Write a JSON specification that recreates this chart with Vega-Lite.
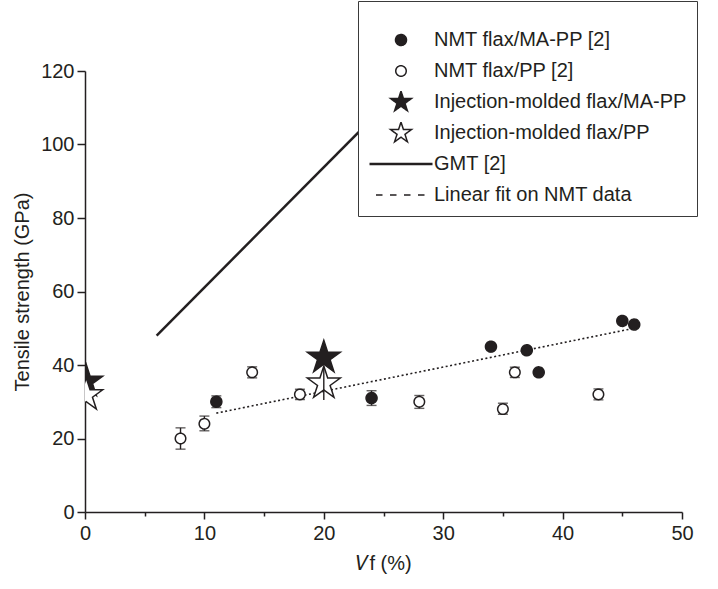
{
  "$schema": "https://vega.github.io/schema/vega-lite/v6.json",
  "width": 597,
  "height": 441,
  "autosize": {"type": "none"},
  "padding": {"left": 85, "top": 71, "right": 36, "bottom": 77},
  "background": "white",
  "config": {
    "view": {"stroke": null},
    "font": "Liberation Sans",
    "axis": {
      "grid": false,
      "domainColor": "#231f20",
      "domainWidth": 1.5,
      "tickColor": "#231f20",
      "tickWidth": 1.5,
      "labelColor": "#231f20",
      "titleColor": "#231f20",
      "labelFont": "Liberation Sans",
      "titleFont": "Liberation Sans",
      "labelFontSize": 20,
      "titleFontSize": 20,
      "titleFontWeight": "normal",
      "labelOverlap": false,
      "labelFlush": false
    },
    "legend": {
      "labelFont": "Liberation Sans",
      "labelFontSize": 20,
      "labelColor": "#231f20",
      "titleFontSize": 18,
      "titlePadding": 0,
      "orient": "none",
      "legendX": 273,
      "legendY": -70,
      "padding": 10,
      "strokeColor": "#3a3a3a",
      "fillColor": "white",
      "labelOffset": 0,
      "rowPadding": 9,
      "clipHeight": 22,
      "symbolOpacity": 1,
      "labelLimit": 400
    }
  },
  "datasets": {
    "pts": [
      {"series": "NMT flax/MA-PP [2]", "x": 11, "y": 30, "lo": 28.4, "hi": 31.6},
      {"series": "NMT flax/MA-PP [2]", "x": 24, "y": 31, "lo": 29, "hi": 33},
      {"series": "NMT flax/MA-PP [2]", "x": 34, "y": 45},
      {"series": "NMT flax/MA-PP [2]", "x": 37, "y": 44},
      {"series": "NMT flax/MA-PP [2]", "x": 38, "y": 38},
      {"series": "NMT flax/MA-PP [2]", "x": 45, "y": 52},
      {"series": "NMT flax/MA-PP [2]", "x": 46, "y": 51},
      {"series": "NMT flax/PP [2]", "x": 8, "y": 20, "lo": 17.1, "hi": 22.9},
      {"series": "NMT flax/PP [2]", "x": 10, "y": 24, "lo": 22.1, "hi": 26.1},
      {"series": "NMT flax/PP [2]", "x": 14, "y": 38, "lo": 36.5, "hi": 39.5},
      {"series": "NMT flax/PP [2]", "x": 18, "y": 32, "lo": 30.6, "hi": 33.4},
      {"series": "NMT flax/PP [2]", "x": 28, "y": 30, "lo": 28.2, "hi": 31.7},
      {"series": "NMT flax/PP [2]", "x": 35, "y": 28, "lo": 26.6, "hi": 29.6},
      {"series": "NMT flax/PP [2]", "x": 36, "y": 38, "lo": 36.6, "hi": 39.4},
      {"series": "NMT flax/PP [2]", "x": 43, "y": 32, "lo": 30.5, "hi": 33.5}
    ],
    "stars": [
      {"series": "Injection-molded flax/MA-PP", "x": 20, "y": 42},
      {"series": "Injection-molded flax/MA-PP", "x": 0.1, "y": 35.5},
      {"series": "Injection-molded flax/PP", "x": 20, "y": 35, "lo": 30.5, "hi": 39.5},
      {"series": "Injection-molded flax/PP", "x": 0.1, "y": 31.8}
    ],
    "gmt": [
      {"x": 6, "y": 48},
      {"x": 28, "y": 120}
    ],
    "fit": [
      {"x": 11, "y": 26.9},
      {"x": 46, "y": 50}
    ]
  },
  "layer": [
    {
      "data": {"name": "gmt"},
      "mark": {"type": "line", "color": "#231f20", "strokeWidth": 2.5, "clip": true},
      "encoding": {
        "x": {
          "field": "x", "type": "quantitative",
          "scale": {"domain": [0, 50], "nice": false, "zero": false},
          "axis": {
            "values": [0, 5, 10, 15, 20, 25, 30, 35, 40, 45, 50],
            "labelExpr": "datum.value % 10 === 0 ? datum.label : ''",
            "tickSize": {"condition": {"test": "datum.value % 10 === 0", "value": 7}, "value": 4},
            "labelPadding": 4,
            "title": "𝑉f (%)",
            "titlePadding": 10
          }
        },
        "y": {
          "field": "y", "type": "quantitative",
          "scale": {"domain": [0, 120], "nice": false, "zero": false},
          "axis": {
            "values": [0, 10, 20, 30, 40, 50, 60, 70, 80, 90, 100, 110, 120],
            "labelExpr": "datum.value % 20 === 0 ? datum.label : ''",
            "tickSize": {"condition": {"test": "datum.value % 20 === 0", "value": 8}, "value": 4},
            "labelPadding": 3,
            "title": "Tensile strength (GPa)",
            "titlePadding": 8
          }
        }
      }
    },
    {
      "data": {"name": "fit"},
      "mark": {"type": "line", "color": "#231f20", "strokeWidth": 1.6, "strokeDash": [2, 2.5]},
      "encoding": {
        "x": {"field": "x", "type": "quantitative"},
        "y": {"field": "y", "type": "quantitative"}
      }
    },
    {
      "data": {"name": "pts"},
      "transform": [{"filter": "isValid(datum.lo)"}],
      "mark": {"type": "rule", "color": "#231f20", "strokeWidth": 1.4},
      "encoding": {
        "x": {"field": "x", "type": "quantitative"},
        "y": {"field": "lo", "type": "quantitative"},
        "y2": {"field": "hi"}
      }
    },
    {
      "data": {"name": "pts"},
      "transform": [{"filter": "isValid(datum.lo)"}],
      "mark": {"type": "tick", "orient": "horizontal", "color": "#231f20", "size": 10, "thickness": 1.4},
      "encoding": {
        "x": {"field": "x", "type": "quantitative"},
        "y": {"field": "lo", "type": "quantitative"}
      }
    },
    {
      "data": {"name": "pts"},
      "transform": [{"filter": "isValid(datum.hi)"}],
      "mark": {"type": "tick", "orient": "horizontal", "color": "#231f20", "size": 10, "thickness": 1.4},
      "encoding": {
        "x": {"field": "x", "type": "quantitative"},
        "y": {"field": "hi", "type": "quantitative"}
      }
    },
    {
      "data": {"name": "pts"},
      "mark": {"type": "point", "stroke": "#231f20", "opacity": 1},
      "encoding": {
        "x": {"field": "x", "type": "quantitative"},
        "y": {"field": "y", "type": "quantitative"},
        "shape": {
          "field": "series", "type": "nominal",
          "legend": {"title": " "},
          "scale": {
            "domain": ["NMT flax/MA-PP [2]", "NMT flax/PP [2]", "Injection-molded flax/MA-PP", "Injection-molded flax/PP", "GMT [2]", "Linear fit on NMT data"],
            "range": ["circle", "circle", "M0,-1L0.2245,-0.309L0.951,-0.309L0.363,0.118L0.588,0.809L0,0.382L-0.588,0.809L-0.363,0.118L-0.951,-0.309L-0.2245,-0.309Z", "M0,-1L0.2245,-0.309L0.951,-0.309L0.363,0.118L0.588,0.809L0,0.382L-0.588,0.809L-0.363,0.118L-0.951,-0.309L-0.2245,-0.309Z", "stroke", "stroke"]
          }
        },
        "fill": {
          "field": "series", "type": "nominal",
          "legend": {"title": " "},
          "scale": {
            "domain": ["NMT flax/MA-PP [2]", "NMT flax/PP [2]", "Injection-molded flax/MA-PP", "Injection-molded flax/PP", "GMT [2]", "Linear fit on NMT data"],
            "range": ["#231f20", "white", "#231f20", "white", "#231f20", "#231f20"]
          }
        },
        "size": {
          "field": "series", "type": "nominal",
          "legend": {"title": " "},
          "scale": {
            "type": "ordinal",
            "domain": ["NMT flax/MA-PP [2]", "NMT flax/PP [2]", "Injection-molded flax/MA-PP", "Injection-molded flax/PP", "GMT [2]", "Linear fit on NMT data"],
            "range": [121, 110, 480, 480, 3969, 2500]
          }
        },
        "strokeWidth": {
          "field": "series", "type": "nominal",
          "legend": {"title": " "},
          "scale": {
            "type": "ordinal",
            "domain": ["NMT flax/MA-PP [2]", "NMT flax/PP [2]", "Injection-molded flax/MA-PP", "Injection-molded flax/PP", "GMT [2]", "Linear fit on NMT data"],
            "range": [1.5, 1.5, 1.5, 1.5, 2.5, 1.5]
          }
        },
        "strokeDash": {
          "field": "series", "type": "nominal",
          "legend": {"title": " "},
          "scale": {
            "domain": ["NMT flax/MA-PP [2]", "NMT flax/PP [2]", "Injection-molded flax/MA-PP", "Injection-molded flax/PP", "GMT [2]", "Linear fit on NMT data"],
            "range": [[1, 0], [1, 0], [1, 0], [1, 0], [1, 0], [6.5, 7.5]]
          }
        }
      }
    },
    {
      "data": {"name": "stars"},
      "mark": {"type": "point", "size": 1200, "stroke": "#231f20", "strokeWidth": 1.5, "opacity": 1, "clip": true},
      "encoding": {
        "x": {"field": "x", "type": "quantitative"},
        "y": {"field": "y", "type": "quantitative"},
        "shape": {"field": "series", "type": "nominal", "legend": {"title": " "}},
        "fill": {"field": "series", "type": "nominal", "legend": {"title": " "}}
      }
    },
    {
      "data": {"name": "stars"},
      "transform": [{"filter": "isValid(datum.lo)"}],
      "mark": {"type": "rule", "color": "#231f20", "strokeWidth": 1.4},
      "encoding": {
        "x": {"field": "x", "type": "quantitative"},
        "y": {"field": "lo", "type": "quantitative"},
        "y2": {"field": "hi"}
      }
    }
  ]
}
